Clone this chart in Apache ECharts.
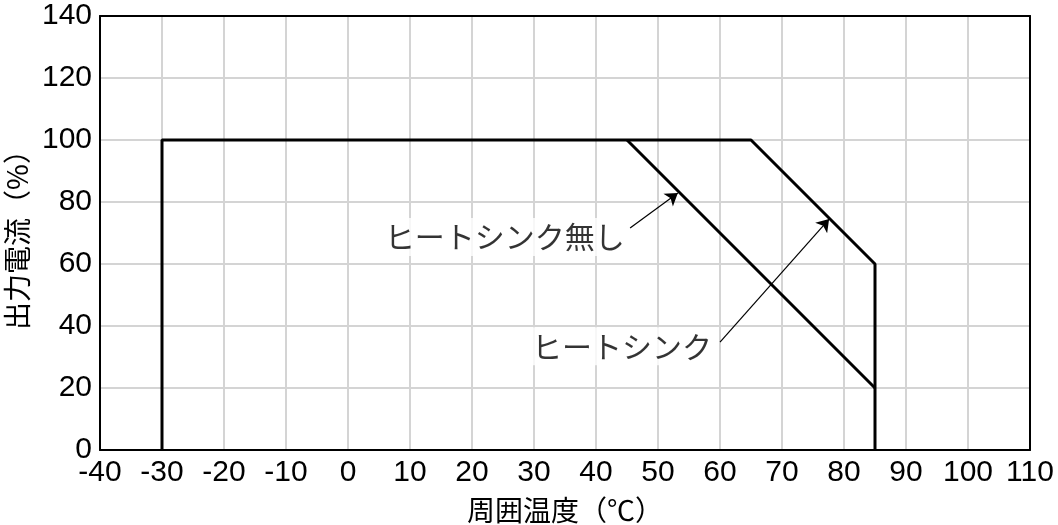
<!DOCTYPE html>
<html><head><meta charset="utf-8">
<script src="https://cdn.jsdelivr.net/npm/echarts@6/dist/echarts.min.js"></script>
<style>html,body{margin:0;padding:0;background:#fff}#c{width:1058px;height:525px}</style>
</head><body><div id="c"></div>
<script>
const withSink = [[-30,0],[-30,100],[65,100],[85,60],[85,0]];
const noSink = [[45,100],[85,20]];
const labelNoSink = {text:'ヒートシンク無し', pos:[25.3,68.7]};
const labelSink = {text:'ヒートシンク', pos:[44.2,33.5]};
const arrowNoSink = [[45.5,71.6],[53.2,82.9]];
const arrowSink = [[60,34.8],[77.6,74.5]];
const xTitle = '周囲温度（℃）';
const yTitle = '出力電流（%）';
const JFONT = '"Noto Sans CJK JP", "Noto Sans", sans-serif';
const NFONT = '"Liberation Sans", Arial, sans-serif';
const frameAxis = {axisLine:{onZero:false,lineStyle:{color:'#000',width:2}},axisTick:{show:false},axisLabel:{show:false},splitLine:{show:false}};
const chart = echarts.init(document.getElementById('c'));
chart.setOption({
  animation:false,
  grid:{left:100,right:28,top:16,bottom:75,outerBoundsMode:'none',containLabel:false},
  xAxis:[{type:'value',min:-40,max:110,interval:10,
    name:xTitle,nameLocation:'middle',nameGap:46,nameTextStyle:{fontSize:28,color:'#000',fontFamily:JFONT},
    axisLine:{onZero:false,lineStyle:{color:'#000',width:2}},axisTick:{show:false},
    axisLabel:{fontSize:30,color:'#000',fontFamily:NFONT,margin:8},
    splitLine:{lineStyle:{color:'#d4d4d4',width:2}}},
    Object.assign({type:'value',min:-40,max:110,interval:10,position:'top'},frameAxis)],
  yAxis:[{type:'value',min:0,max:140,interval:20,
    name:yTitle,nameLocation:'middle',nameGap:68,nameTextStyle:{fontSize:28,color:'#000',fontFamily:JFONT},
    axisLine:{onZero:false,lineStyle:{color:'#000',width:2}},axisTick:{show:false},
    axisLabel:{fontSize:30,color:'#000',fontFamily:NFONT,margin:8},
    splitLine:{lineStyle:{color:'#d4d4d4',width:2}}},
    Object.assign({type:'value',min:0,max:140,interval:20,position:'right'},frameAxis)],
  series:[
    {type:'line',data:withSink,symbol:'none',lineStyle:{color:'#000',width:3},z:3},
    {type:'line',data:noSink,symbol:'none',lineStyle:{color:'#000',width:3},z:3},
    {type:'lines',coordinateSystem:'cartesian2d',polyline:false,z:5,
      symbol:['none','arrow'],symbolSize:12,
      lineStyle:{color:'#000',width:1.2,opacity:1},
      data:[{coords:arrowNoSink},{coords:arrowSink}]},
    {type:'scatter',symbolSize:0,z:4,
      label:{show:true,position:'inside',fontSize:30,color:'#000',fontFamily:JFONT,
        backgroundColor:'#fff',padding:[4,4,4,4],formatter:p=>p.name},
      data:[{name:labelNoSink.text,value:labelNoSink.pos},{name:labelSink.text,value:labelSink.pos}]}
  ]
});
</script></body></html>
